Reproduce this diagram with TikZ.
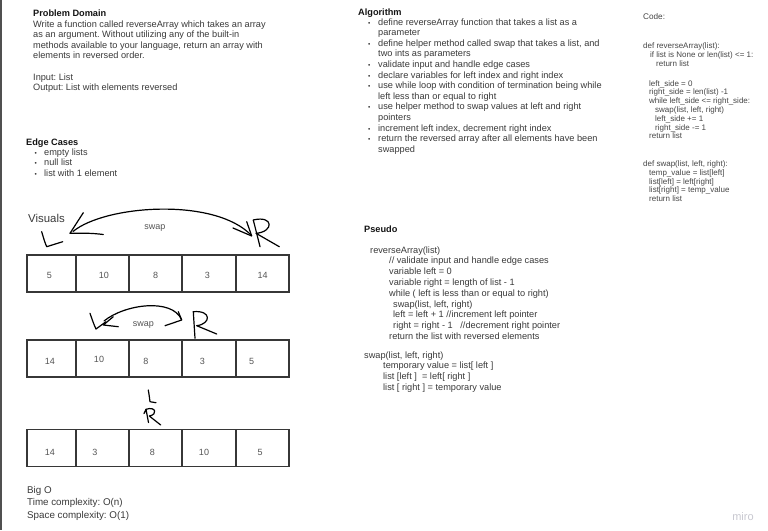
\documentclass[tikz,border=0pt]{standalone}
\usepackage{fontspec}
\setmainfont{Liberation Sans}
\frenchspacing
\definecolor{txt}{RGB}{58,58,58}
\definecolor{codec}{RGB}{70,70,70}
\definecolor{numc}{RGB}{85,85,85}
\definecolor{boxc}{RGB}{55,55,55}
\definecolor{edge}{RGB}{80,80,80}
\definecolor{miroc}{RGB}{200,200,208}
\begin{document}
\begin{tikzpicture}[x=1pt,y=-1pt,
  body/.style={anchor=base west, inner sep=0pt, font=\fontsize{9.2}{11}\selectfont, text=txt},
  head/.style={anchor=base west, inner sep=0pt, font=\fontsize{9.2}{11}\selectfont\bfseries, text=black!92},
  codel/.style={anchor=base west, inner sep=0pt, font=\fontsize{8}{9}\selectfont, text=codec},
  bul/.style={anchor=base west, inner sep=0pt, font=\fontsize{6.5}{8}\selectfont, text=txt},
  num/.style={anchor=center, inner sep=0pt, font=\fontsize{9}{10}\selectfont, text=numc},
  lbl/.style={anchor=center, inner sep=0pt, font=\fontsize{9}{10}\selectfont, text=numc},
  cell/.style={draw=boxc, line width=1.4pt, minimum width=#1, minimum height=37pt, inner sep=0pt},
  hand/.style={draw=black, line width=1.2pt, line cap=round, line join=round}]
\useasboundingbox (0,0) rectangle (768,530);
\fill[white] (0,0) rectangle (768,530);
\fill[edge] (0,0) rectangle (2.2,530);

% ---------- Problem Domain ----------
\node[head] (pdh) at (33,16.5) {Problem Domain};
\node[body] (pd1) at (33,27.2) {Write a function called reverseArray which takes an array};
\node[body] (pd2) at (33,37.7) {as an argument. Without utilizing any of the built-in};
\node[body] (pd3) at (33,48.2) {methods available to your language, return an array with};
\node[body] (pd4) at (33,58.7) {elements in reversed order.};
\node[body] (pd5) at (33,80) {Input: List};
\node[body] (pd6) at (33,90.5) {Output: List with elements reversed};

% ---------- Edge Cases ----------
\node[head] (ech) at (26,145) {Edge Cases};
\node[bul] (ecb1) at (34.5,155.3) {•};
\node[body] (ec1) at (44,155.3) {empty lists};
\node[bul] (ecb2) at (34.5,165.8) {•};
\node[body] (ec2) at (44,165.8) {null list};
\node[bul] (ecb3) at (34.5,176.3) {•};
\node[body] (ec3) at (44,176.3) {list with 1 element};

% ---------- Algorithm ----------
\node[head] (alh) at (358,15) {Algorithm};
\node[bul] (alb1) at (368,25) {•};
\node[body] (al1) at (378,25) {define reverseArray function that takes a list as a};
\node[body] (al2) at (378,35.6) {parameter};
\node[bul] (alb3) at (368,46.2) {•};
\node[body] (al3) at (378,46.2) {define helper method called swap that takes a list, and};
\node[body] (al4) at (378,56.8) {two ints as parameters};
\node[bul] (alb5) at (368,67.4) {•};
\node[body] (al5) at (378,67.4) {validate input and handle edge cases};
\node[bul] (alb6) at (368,78) {•};
\node[body] (al6) at (378,78) {declare variables for left index and right index};
\node[bul] (alb7) at (368,88.6) {•};
\node[body] (al7) at (378,88.6) {use while loop with condition of termination being while};
\node[body] (al8) at (378,99.2) {left less than or equal to right};
\node[bul] (alb9) at (368,109.8) {•};
\node[body] (al9) at (378,109.8) {use helper method to swap values at left and right};
\node[body] (al10) at (378,120.4) {pointers};
\node[bul] (alb11) at (368,131) {•};
\node[body] (al11) at (378,131) {increment left index, decrement right index};
\node[bul] (alb12) at (368,141.6) {•};
\node[body] (al12) at (378,141.6) {return the reversed array after all elements have been};
\node[body] (al13) at (378,152.2) {swapped};

% ---------- Code ----------
\node[codel, font=\fontsize{8.2}{9}\selectfont] (cdh) at (643,19) {Code:};
\node[codel] (c1) at (643,48.8) {def reverseArray(list):};
\node[codel] (c2) at (650,57.8) {if list is None or len(list) <= 1:};
\node[codel] (c3) at (656,66.8) {return list};
\node[codel] (c4) at (649,86) {left\_side = 0};
\node[codel] (c5) at (649,94.8) {right\_side = len(list) -1};
\node[codel] (c6) at (649,103.6) {while left\_side <= right\_side:};
\node[codel] (c7) at (655,112.4) {swap(list, left, right)};
\node[codel] (c8) at (655,121.2) {left\_side += 1};
\node[codel] (c9) at (655,130) {right\_side -= 1};
\node[codel] (c10) at (649,138.8) {return list};
\node[codel] (c11) at (643,166.5) {def swap(list, left, right):};
\node[codel] (c12) at (649,175.3) {temp\_value = list[left]};
\node[codel] (c13) at (649,184.1) {list[left] = left[right]};
\node[codel] (c14) at (649,192.9) {list[right] = temp\_value};
\node[codel] (c15) at (649,201.7) {return list};

% ---------- Pseudo ----------
\node[head] (psh) at (364,232) {Pseudo};
\node[body] (ps1) at (370,253) {reverseArray(list)};
\node[body] (ps2) at (389,263.8) {// validate input and handle edge cases};
\node[body] (ps3) at (389,274.6) {variable left = 0};
\node[body] (ps4) at (389,285.4) {variable right = length of list - 1};
\node[body] (ps5) at (389,296.2) {while ( left is less than or equal to right)};
\node[body] (ps6) at (393,307) {swap(list, left, right)};
\node[body] (ps7) at (393,317.8) {left = left + 1 //increment left pointer};
\node[body] (ps8) at (393,328.6) {right = right - 1 \ \ //decrement right pointer};
\node[body] (ps9) at (389,339.4) {return the list with reversed elements};
\node[body] (ps10) at (364,358) {swap(list, left, right)};
\node[body] (ps11) at (383,368.8) {temporary value = list[ left ]};
\node[body] (ps12) at (383,379.6) {list [left ] \ = left[ right ]};
\node[body] (ps13) at (383,390.4) {list [ right ] = temporary value};

% ---------- Visuals ----------
\node[body, font=\fontsize{11.4}{13}\selectfont] (vis) at (28,222) {Visuals};

% array 1
\node[cell=49pt] (a1c1) at (51.5,273.5) {};
\node[cell=53pt] (a1c2) at (102.5,273.5) {};
\node[cell=53pt] (a1c3) at (155.5,273.5) {};
\node[cell=54pt] (a1c4) at (209,273.5) {};
\node[cell=53pt] (a1c5) at (262.5,273.5) {};
\node[num] (a1n1) at (49.3,275) {5};
\node[num] (a1n2) at (104,275) {10};
\node[num] (a1n3) at (155.7,275) {8};
\node[num] (a1n4) at (207.3,275) {3};
\node[num] (a1n5) at (262.7,275) {14};
\node[lbl] (sw1) at (155,228) {swap};

% array 2
\node[cell=49pt] (a2c1) at (51.5,358.5) {};
\node[cell=53pt] (a2c2) at (102.5,358.5) {};
\node[cell=53pt] (a2c3) at (155.5,358.5) {};
\node[cell=54pt] (a2c4) at (209,358.5) {};
\node[cell=53pt] (a2c5) at (262.5,358.5) {};
\node[num] (a2n1) at (50,361.7) {14};
\node[num] (a2n2) at (99,359) {10};
\node[num] (a2n3) at (146,361.7) {8};
\node[num] (a2n4) at (202.3,361.7) {3};
\node[num] (a2n5) at (251.7,361.7) {5};
\node[lbl] (sw2) at (143.3,325) {swap};

% array 3
\node[cell=49pt] (a3c1) at (51.5,448) {};
\node[cell=53pt] (a3c2) at (102.5,448) {};
\node[cell=53pt] (a3c3) at (155.5,448) {};
\node[cell=54pt] (a3c4) at (209,448) {};
\node[cell=53pt] (a3c5) at (262.5,448) {};
\node[num] (a3n1) at (50,452.3) {14};
\node[num] (a3n2) at (95,452.3) {3};
\node[num] (a3n3) at (152.3,452.3) {8};
\node[num] (a3n4) at (204,452.3) {10};
\node[num] (a3n5) at (260,452.3) {5};

% ---------- hand drawing, row 1 ----------
\draw[hand] (41.7,231.7) .. controls (43.5,238) and (45,243) .. (46.7,246.7) -- (62.7,241.7);
\draw[hand] (73,231.5) .. controls (105,205) and (215,197) .. (251.5,235.5);
\draw[hand] (83.3,212.7) -- (70,233.3) .. controls (80,233) and (92,233) .. (103.3,234.5);
\draw[hand] (233,228) -- (251.7,236) -- (246.7,221.7);
\draw[hand] (253.3,220) -- (260,246.7);
\draw[hand] (253.3,220) .. controls (274,215) and (274,232) .. (256,233.3) -- (279.3,246.7);

% ---------- hand drawing, row 2 ----------
\draw[hand] (90,313.3) .. controls (92,319) and (94,325) .. (96,329) -- (106,321.7);
\draw[hand] (113.3,316.7) -- (103.3,325) -- (118.3,326.7);
\draw[hand] (104,321) .. controls (125,304) and (172,298) .. (181.5,319.5);
\draw[hand] (165,325.7) -- (181.7,320) -- (178.3,311.7);
\draw[hand] (193.3,311.7) -- (195,338.3);
\draw[hand] (193.3,311.7) .. controls (212,310) and (211,324) .. (196.7,325.7) -- (216.7,334);

% ---------- hand drawing, row 3 ----------
\draw[hand] (148.3,390) .. controls (149,394) and (149.5,398) .. (150,401.7) -- (156,402.7);
\draw[hand] (144,413.5) -- (146,409.3) -- (148.5,422.5);
\draw[hand] (146,409.3) .. controls (156,406) and (158,414.5) .. (149.3,416) -- (160.7,425);

% ---------- Big O ----------
\node[body, font=\fontsize{9.8}{12}\selectfont] (bo1) at (27,493) {Big O};
\node[body, font=\fontsize{9.8}{12}\selectfont] (bo2) at (27,505.5) {Time complexity: O(n)};
\node[body, font=\fontsize{9.8}{12}\selectfont] (bo3) at (27,518) {Space complexity: O(1)};

\node[anchor=center, inner sep=0pt, font=\fontsize{11}{12}\selectfont, text=miroc] (miro) at (743,517) {miro};
\end{tikzpicture}
\end{document}
